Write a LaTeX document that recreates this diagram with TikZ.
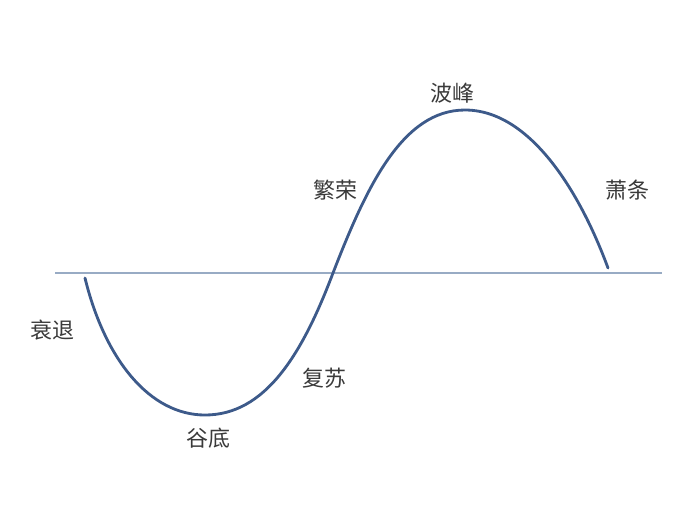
\documentclass[tikz,border=0pt]{standalone}
\usepackage{fontspec}
\usepackage{xcolor}
\usepackage{tikz}
\newfontfamily\cjk{Noto Sans CJK SC}
\definecolor{wave}{HTML}{3D5A8A}
\definecolor{axisline}{HTML}{98ABC4}
\definecolor{labelink}{HTML}{3A3A3A}

\begin{document}
\begin{tikzpicture}[x=0.02cm,y=-0.02cm,
  phase/.style={font=\cjk\fontsize{12.5}{14}\selectfont\color{labelink},inner sep=0pt},
  curve/.style={draw=wave,line width=1.6pt,line cap=round}
]
  \useasboundingbox (0,0) rectangle (693,508);
  % axis
  \coordinate (axl) at (55,273);
  \coordinate (axr) at (662,273);
  \draw[axisline,line width=0.9pt] (axl) -- (axr);
  % cycle
  \coordinate (start)  at (85,278);
  \coordinate (trough) at (205,415);
  \coordinate (cross)  at (333,273);
  \coordinate (peak)   at (465,110);
  \coordinate (stop)   at (608,268);
  \draw[curve] (start) .. controls (105,360) and (150,415) .. (trough)
               .. controls (265,415) and (302,355) .. (cross)
               .. controls (366,188) and (402,110) .. (peak)
               .. controls (530,110) and (580,192) .. (stop);
  % labels
  \node[phase] (rec) at (52,330)  {衰退};
  \node[phase] (bot) at (208,438) {谷底};
  \node[phase] (rev) at (324,378) {复苏};
  \node[phase] (pro) at (335,190) {繁荣};
  \node[phase] (top) at (452,93)  {波峰};
  \node[phase] (dep) at (627,190) {萧条};
\end{tikzpicture}
\end{document}
